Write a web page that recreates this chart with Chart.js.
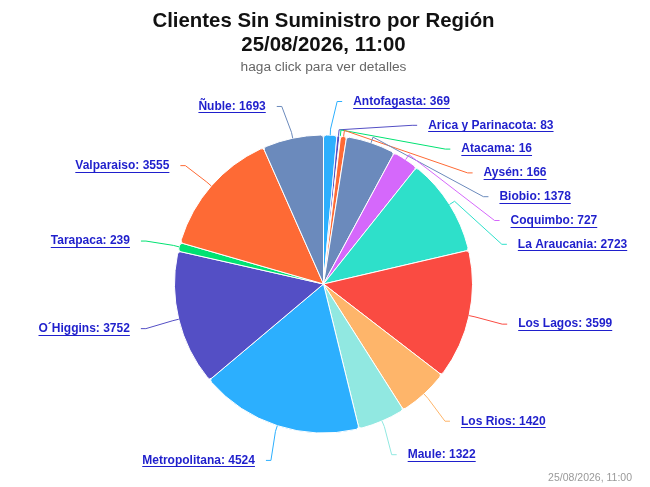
<!DOCTYPE html>
<html><head><meta charset="utf-8">
<script src="https://cdn.jsdelivr.net/npm/chart.js@4/dist/chart.umd.min.js"></script>
<style>
html,body{margin:0;padding:0;background:#fff;}
#wrap{position:relative;width:650px;height:487px;}
#credits{position:absolute;right:18px;top:471px;font:10.5px "Liberation Sans",Arial,sans-serif;color:#999;}
</style></head>
<body>
<div id="wrap"><canvas id="c" width="650" height="487"></canvas><div id="credits">25/08/2026, 11:00</div></div>
<script>
const titleLines = ['Clientes Sin Suministro por Región', '25/08/2026, 11:00'];
const subtitleText = 'haga click para ver detalles';
const regions = ['Antofagasta','Arica y Parinacota','Atacama','Aysén','Biobio','Coquimbo','La Araucania','Los Lagos','Los Rios','Maule','Metropolitana','O´Higgins','Tarapaca','Valparaiso','Ñuble'];
const clients = [369,83,16,166,1378,727,2723,3599,1420,1322,4524,3752,239,3555,1693];
const palette = ['#2caffe','#544fc5','#00e272','#fe6a35','#6b8abc','#d568fb','#2ee0ca','#fa4b42','#feb56a','#91e8e1'];
const sliceColors = regions.map((_, i) => palette[i % palette.length]);

const FONT = '"Liberation Sans", Arial, sans-serif';

const outsideLabels = {
  id: 'outsideLabels',
  afterDatasetsDraw(chart) {
    const ctx = chart.ctx;
    const meta = chart.getDatasetMeta(0);
    const items = meta.data.map((arc, i) => {
      const p = arc.getProps(['x','y','startAngle','endAngle','outerRadius'], true);
      const mid = (p.startAngle + p.endAngle) / 2;
      const r = p.outerRadius;
      const left = Math.cos(mid) < 0;
      const off = left && Math.sin(mid) < 0 ? 3 : 1;
      return {i, mid, r, left, cx: p.x, cy: p.y,
        natY: p.y + off + (r + 35.5) * Math.sin(mid)};
    });
    const spacing = 23.8, topB = 101.5, botB = 470;
    [false, true].forEach(side => {
      const s = items.filter(it => it.left === side).sort((a, b) => a.natY - b.natY);
      let prev = -Infinity;
      s.forEach(it => { it.y = Math.max(it.natY, prev + spacing, topB); prev = it.y; });
      let next = Infinity;
      for (let k = s.length - 1; k >= 0; k--) { s[k].y = Math.min(s[k].y, next - spacing, botB); next = s[k].y; }
    });
    ctx.save();
    ctx.font = 'bold 12px ' + FONT;
    ctx.textBaseline = 'middle';
    items.forEach(it => {
      const {cx, cy, r, mid} = it;
      const dir = it.left ? -1 : 1;
      const A = r + 40, B = r + 35.5;
      const q = (it.y - cy - 1) / B;
      const dx = A * Math.sqrt(Math.max(0, 1 - q * q));
      const tx = cx + dir * (dx + 10);
      const color = sliceColors[it.i];
      const tX = cx + r * Math.cos(mid), tY = cy + r * Math.sin(mid);
      const bX = cx + (r + 6) * Math.cos(mid), bY = cy + (r + 6) * Math.sin(mid);
      const eX = tx - dir * 11, eY = it.y;
      const kX = eX - dir * 5;
      ctx.beginPath();
      ctx.strokeStyle = color;
      ctx.lineWidth = 1;
      ctx.moveTo(tX, tY);
      ctx.lineTo(bX, bY);
      if ((kX - bX) * dir > 0) ctx.lineTo(kX, eY);
      ctx.lineTo(eX, eY);
      ctx.stroke();
      const text = regions[it.i] + ': ' + clients[it.i];
      const w = ctx.measureText(text).width;
      ctx.fillStyle = '#1f1fcc';
      ctx.textAlign = it.left ? 'right' : 'left';
      ctx.fillText(text, tx, it.y);
      const ux0 = it.left ? tx - w : tx;
      ctx.beginPath();
      ctx.strokeStyle = '#1f1fcc';
      ctx.lineWidth = 1;
      ctx.moveTo(ux0, Math.round(it.y + 6) + 0.5);
      ctx.lineTo(ux0 + w, Math.round(it.y + 6) + 0.5);
      ctx.stroke();
    });
    ctx.restore();
  }
};

new Chart(document.getElementById('c'), {
  type: 'pie',
  data: {
    labels: regions,
    datasets: [{
      data: clients,
      backgroundColor: sliceColors,
      borderColor: '#ffffff',
      borderWidth: 1,
      borderRadius: 3,
      hoverOffset: 0
    }]
  },
  options: {
    responsive: false,
    animation: false,
    radius: 149,
    layout: {padding: {left: 0, right: 3, top: 0, bottom: 0}},
    plugins: {
      legend: {display: false},
      tooltip: {enabled: false},
      title: {
        display: true,
        text: titleLines,
        color: '#111111',
        font: {family: FONT, size: 20.4, weight: 'bold', lineHeight: 1.2},
        padding: {top: 9, bottom: 0}
      },
      subtitle: {
        display: true,
        text: subtitleText,
        color: '#666666',
        font: {family: FONT, size: 13.7, weight: 'normal', lineHeight: 1.2},
        padding: {top: 0.8, bottom: 5.8}
      }
    },
    events: []
  },
  plugins: [outsideLabels]
});
</script>
</body></html>
